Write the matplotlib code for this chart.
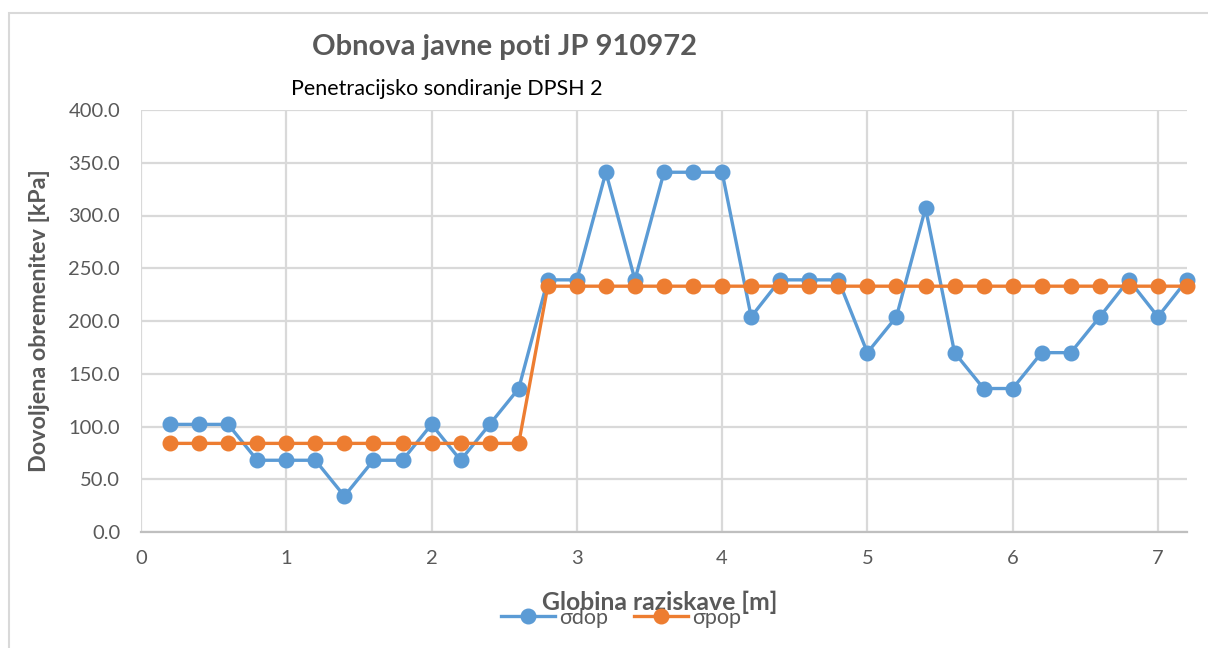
import matplotlib
matplotlib.use("Agg")
import matplotlib.pyplot as plt
from matplotlib.lines import Line2D
from matplotlib.patches import Rectangle

depth = [0.2, 0.4, 0.6, 0.8, 1.0, 1.2, 1.4, 1.6, 1.8, 2.0, 2.2, 2.4, 2.6, 2.8,
         3.0, 3.2, 3.4, 3.6, 3.8, 4.0, 4.2, 4.4, 4.6, 4.8, 5.0, 5.2, 5.4, 5.6,
         5.8, 6.0, 6.2, 6.4, 6.6, 6.8, 7.0, 7.2]
sigma_dop = [102, 102, 102, 68, 68, 68, 34, 68, 68, 102, 68, 102, 136, 239,
             239, 341, 239, 341, 341, 341, 204, 239, 239, 239, 170, 204, 307, 170,
             136, 136, 170, 170, 204, 239, 204, 239]
sigma_pop = [84] * 13 + [233] * 23

title = "Obnova javne poti JP 910972"
subtitle = "Penetracijsko sondiranje DPSH 2"
xlabel = "Globina raziskave [m]"
ylabel = "Dovoljena obremenitev [kPa]"
series_names = ["σdop", "σpop"]

blue = "#5B9BD5"
orange = "#ED7D31"
gray = "#595959"
grid = "#D9D9D9"

plt.rcParams['font.family'] = ['Lato', 'DejaVu Sans']

fig = plt.figure(figsize=(12.08, 6.48), dpi=100)
ax = fig.add_axes([141/1208, 1-532/648, (1187-141)/1208, (532-110)/648])

fig.patches.append(Rectangle((9/1208, -0.01), 1.2, 1 - 13/648 + 0.01,
                             transform=fig.transFigure, fill=False,
                             edgecolor="#D9D9D9", linewidth=1.5))

ax.plot(depth, sigma_dop, color=blue, lw=2.4, marker='o', ms=10.5,
        label=series_names[0], clip_on=False, zorder=3)
ax.plot(depth, sigma_pop, color=orange, lw=2.4, marker='o', ms=10.5,
        label=series_names[1], clip_on=False, zorder=4)

ax.set_xlim(0, 7.2)
ax.set_ylim(0, 400)
ax.set_xticks(range(0, 8))
ax.set_yticks(range(0, 401, 50))
ax.set_yticklabels([f"{v:.1f}" for v in range(0, 401, 50)])
ax.grid(True, color=grid, lw=1.6)
ax.set_axisbelow(True)
for s in ["top", "right", "left"]:
    ax.spines[s].set_visible(False)
ax.spines["bottom"].set_color("#BFBFBF")
ax.spines["bottom"].set_linewidth(1.6)
ax.tick_params(axis='both', length=0, labelsize=14.5, labelcolor=gray)
ax.tick_params(axis='x', pad=13)
ax.tick_params(axis='y', pad=15)

fig.text(505/1208, 1-47/648, title, ha='center', va='center',
         fontsize=21, fontweight='bold', color=gray)
fig.text(447/1208, 1-89/648, subtitle, ha='center', va='center',
         fontsize=15.5, color='black')
fig.text(660/1208, 1-602/648, xlabel, ha='center', va='center',
         fontsize=17.8, fontweight='bold', color=gray)
fig.text(40/1208, 1-321/648, ylabel, ha='center', va='center', rotation=90,
         fontsize=16.8, fontweight='bold', color=gray)

handles = [Line2D([], [], color=blue, lw=2.4, marker='o', ms=10.5),
           Line2D([], [], color=orange, lw=2.4, marker='o', ms=10.5)]
fig.legend(handles, series_names, loc='center', bbox_to_anchor=(621/1208, 1-618/648),
           ncol=2, frameon=False, fontsize=15.5, labelcolor=gray,
           handlelength=2.5, columnspacing=1.2, handletextpad=0.2)

fig.savefig("out.png", dpi=100)
